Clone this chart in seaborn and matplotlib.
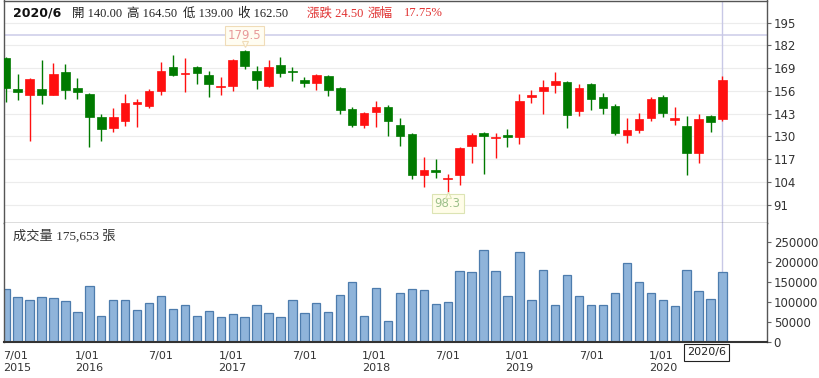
import matplotlib
matplotlib.use("Agg")
import matplotlib.pyplot as plt
import seaborn as sns
import numpy as np

# 月K資料 2015/6 ~ 2020/6
months = [f"{y}/{m}" for y in range(2015, 2021) for m in range(1, 13)][5:66]

opens = [174.7, 156.9, 153.7, 156.9, 153.7, 167.0, 157.5, 154.3, 141.0, 135.0,
         139.0, 148.8, 147.4, 156.1, 169.5, 165.5, 169.5, 165.1, 158.1, 158.8,
         178.8, 167.6, 158.8, 170.7, 167.2, 162.3, 160.4, 164.5, 157.5, 145.5,
         136.5, 144.1, 146.7, 136.5, 131.4, 108.0, 110.8, 105.7, 108.0, 124.5,
         132.1, 128.9, 130.8, 129.5, 152.7, 156.0, 159.4, 161.3, 144.7, 159.8,
         152.4, 147.4, 130.8, 133.7, 140.7, 152.4, 139.4, 136.0, 120.7, 141.7,
         140.0]
highs = [175.5, 165.7, 163.5, 173.7, 171.8, 171.2, 163.2, 155.0, 142.8, 146.1,
         154.3, 151.6, 156.9, 172.7, 176.5, 174.7, 170.0, 167.6, 164.1, 174.5,
         179.5, 170.3, 173.7, 175.6, 169.9, 163.8, 165.5, 165.1, 158.0, 146.7,
         144.1, 150.4, 148.0, 140.4, 132.0, 118.4, 117.0, 108.5, 124.1, 131.8,
         132.7, 131.8, 134.1, 154.3, 156.5, 162.3, 167.0, 161.5, 160.0, 160.7,
         154.7, 148.5, 140.4, 143.6, 152.7, 153.7, 147.0, 141.7, 142.8, 142.0,
         164.5]
lows = [149.9, 150.8, 127.6, 148.5, 153.5, 151.2, 151.4, 123.8, 127.6, 132.7,
        136.0, 135.6, 146.1, 153.7, 164.8, 155.6, 160.0, 152.7, 153.7, 156.1,
        168.4, 156.9, 158.5, 164.1, 161.9, 158.1, 156.5, 153.1, 142.8, 135.2,
        134.7, 135.6, 130.3, 124.5, 105.5, 100.9, 106.1, 98.3, 102.3, 115.0,
        108.5, 117.5, 124.1, 125.7, 148.9, 142.8, 154.7, 134.7, 141.7, 145.1,
        142.8, 130.8, 126.4, 132.1, 139.0, 140.9, 136.5, 108.0, 115.0, 132.7,
        139.0]
closes = [157.5, 155.4, 162.7, 153.7, 165.7, 156.5, 155.6, 141.3, 134.4, 141.3,
          149.3, 149.4, 156.1, 167.6, 165.1, 165.9, 166.1, 160.0, 158.8, 173.7,
          170.4, 162.3, 169.9, 166.1, 166.6, 160.7, 165.1, 156.5, 145.1, 136.5,
          143.2, 146.7, 139.0, 130.3, 108.0, 110.8, 109.9, 106.4, 123.2, 130.8,
          130.3, 129.9, 129.5, 150.4, 153.7, 158.4, 161.9, 142.3, 157.5, 151.2,
          146.1, 132.1, 133.7, 140.0, 151.2, 143.2, 140.4, 120.4, 139.8, 138.0,
          162.5]
volumes = [133000, 112500, 105500, 112500, 110500, 103000, 75500, 140500, 65500, 105500,
           105500, 80500, 98000, 115000, 83000, 93000, 65500, 78000, 63000, 70500,
           63000, 93000, 73000, 63000, 105500, 73000, 98000, 75500, 117500, 150500,
           65500, 135000, 54000, 123000, 133000, 130500, 95500, 100500, 179000, 175000,
           230500, 179000, 115000, 225500, 105500, 181500, 93000, 167500, 115000, 93000,
           93000, 123000, 199000, 150000, 123000, 105500, 90500, 181500, 128000, 108000,
           175653]

price_ticks = [91, 104, 117, 130, 143, 156, 169, 182, 195]
vol_ticks = [0, 50000, 100000, 150000, 200000, 250000]
tick_pos = [1, 7, 13, 19, 25, 31, 37, 43, 49, 55]
tick_labels = ["7/01\n2015", "1/01\n2016", "7/01", "1/01\n2017", "7/01",
               "1/01\n2018", "7/01", "1/01\n2019", "7/01", "1/01\n2020"]

RED = "#ff1010"
GREEN = "#007a00"
CJK = ["Liberation Serif", "Noto Sans CJK TC"]

sns.set_style("white")
plt.rcParams["font.family"] = ["DejaVu Sans", "Noto Sans CJK TC"]

W, H = 820, 378
fig = plt.figure(figsize=(W / 100, H / 100), dpi=100)

def px(x, y):
    return x / W, 1 - y / H

left, right = 4.5 / W, 766.7 / W
ax_p = fig.add_axes([left, 1 - 222.7 / H, right - left, (222.7 - 0.5) / H])
ax_v = fig.add_axes([left, 1 - 342.3 / H, right - left, (342.3 - 222.7) / H])

x = np.arange(len(months))
o, hi, lo, c = map(np.array, (opens, highs, lows, closes))
col = np.where(c >= o, RED, GREEN)
bottoms = np.minimum(o, c)
heights = np.maximum(np.abs(c - o), 0.8)

# 價格 K 線
ax_p.set_axisbelow(True)
ax_p.vlines(x, lo, hi, colors=col, lw=1, zorder=2)
ax_p.bar(x, heights, bottom=bottoms, width=0.72, color=col, edgecolor=col, lw=0.5, zorder=3)
ax_p.set_ylim(80.7, 207.7)
ax_p.set_xlim(-0.1, 63.7)
ax_p.set_yticks(price_ticks)
ax_p.grid(axis="y", color="#ececec", lw=0.8)
ax_p.grid(axis="x", visible=False)
ax_p.yaxis.tick_right()
ax_p.tick_params(axis="y", length=3, pad=2, labelsize=8.5, color="#666", labelcolor="#333")
ax_p.tick_params(axis="x", length=0, labelbottom=False)
ax_p.set_xticks([])

# 十字線
ax_p.axhline(188, color="#d0d0ea", lw=1.2, zorder=1)
ax_p.axvline(60, color="#c8c8e6", lw=1, zorder=1)

# 最高 / 最低 標記
ax_p.text(20, 187.6, "179.5", ha="center", va="center", fontsize=8.5, color="#e89a9a",
          bbox=dict(boxstyle="square,pad=0.25", fc="#fffdf2", ec="#f0dcb8", lw=0.8), zorder=5)
ax_p.plot(20, 182.6, marker="v", ms=5, mfc="#fffdf2", mec="#f0dcb8", mew=0.8, zorder=6)
ax_p.text(37, 91.5, "98.3", ha="center", va="center", fontsize=8.5, color="#9cc08a",
          bbox=dict(boxstyle="square,pad=0.25", fc="#fffde8", ec="#dce4b4", lw=0.8), zorder=5)
ax_p.plot(37, 96.5, marker="^", ms=5, mfc="#fffde8", mec="#dce4b4", mew=0.8, zorder=6)

# 成交量
sns.barplot(x=x, y=volumes, ax=ax_v, color="#8fb4da", edgecolor="#4d7cad",
            linewidth=0.9, width=0.7, saturation=1, zorder=2)
ax_v.axvline(60, color="#c8c8e6", lw=1, zorder=1)
ax_v.set_xlim(-0.1, 63.7)
ax_v.set_ylim(0, 299000)
ax_v.set_xlabel("")
ax_v.set_ylabel("")
ax_v.set_yticks(vol_ticks)
ax_v.set_yticklabels([str(v) for v in vol_ticks])
ax_v.yaxis.tick_right()
ax_v.tick_params(axis="y", length=3, pad=2, labelsize=8.5, color="#666", labelcolor="#333")
ax_v.set_xticks(tick_pos)
ax_v.set_xticklabels(tick_labels, multialignment="left", fontsize=8, color="#333",
                     linespacing=1.25)
ax_v.tick_params(axis="x", length=0, pad=6)
ax_v.set_xticks(x + 0.5, minor=True)
ax_v.tick_params(axis="x", which="minor", length=2, color="#f2a862", width=0.8)
ax_v.grid(False)

for ax in (ax_p, ax_v):
    for s in ax.spines.values():
        s.set_color("#555")
        s.set_linewidth(1)
ax_v.spines["top"].set_visible(False)
ax_v.spines["bottom"].set_color("#333")
ax_v.spines["bottom"].set_linewidth(1.5)

# 標題列
fig.text(*px(13, 13.5), months[-1], fontsize=9, fontweight="bold", color="#111", va="center")
for xx, s in [(72, "開 140.00"), (127, "高 164.50"), (183, "低 139.00"), (238, "收 162.50")]:
    fig.text(*px(xx, 13.5), s, fontsize=9, family=CJK, color="#222", va="center")
for xx, s in [(307, "漲跌 24.50"), (368, "漲幅"), (404, "17.75%")]:
    fig.text(*px(xx, 13.5), s, fontsize=9, family=CJK, color="#e03030", va="center")
fig.text(*px(13, 236), "成交量 175,653 張", fontsize=9.5, family=CJK, color="#333", va="center")

# 游標日期
fig.text(*px(706.5, 352.5), "2020/6", fontsize=8, ha="center", va="center", color="#222",
         bbox=dict(boxstyle="square,pad=0.3", fc="white", ec="#222", lw=0.8))

plt.savefig("out.png", dpi=100)
